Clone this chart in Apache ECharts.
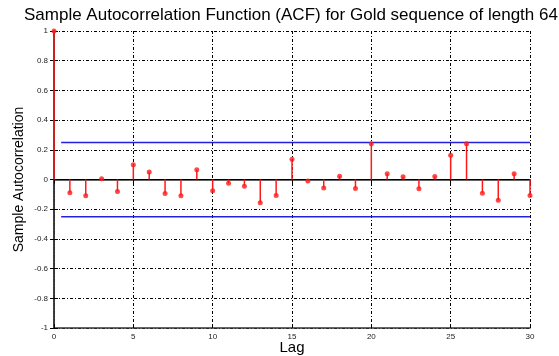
<!DOCTYPE html>
<html lang="en">
<head>
    <meta charset="UTF-8">
    <title>ACF</title>
    <script src="https://cdn.jsdelivr.net/npm/echarts@6.0.0/dist/echarts.min.js"></script>
    <style>
        body { margin: 0; background: #fff; }
    </style>
</head>
<body>
    <div id="main" style="width: 559px;height:356px;"></div>
    <script type="text/javascript">
        // lags and sample autocorrelation values
        const lags = [0, 1, 2, 3, 4, 5, 6, 7, 8, 9, 10, 11, 12, 13, 14, 15,
            16, 17, 18, 19, 20, 21, 22, 23, 24, 25, 26, 27, 28, 29, 30];
        const acf = [1, -0.09, -0.11, 0.005, -0.08, 0.1, 0.05, -0.095, -0.11, 0.065,
            -0.076, -0.025, -0.045, -0.156, -0.107, 0.136, -0.01, -0.058, 0.022, -0.06,
            0.241, 0.038, 0.018, -0.063, 0.02, 0.163, 0.241, -0.092, -0.14, 0.038, -0.107];
        // confidence bounds (2/sqrt(64))
        const bound = 0.25;
        const boundStart = 0.45;
        const yTicks = [-1, -0.8, -0.6, -0.4, -0.2, 0, 0.2, 0.4, 0.6, 0.8, 1];

        const points = lags.map((l, i) => [l, acf[i]]);
        const font = 'Liberation Sans, Arial, sans-serif';

        const gridLine = { show: true, lineStyle: { color: '#000', width: 1, type: [3, 2, 1, 2] } };

        let options = {
            animation: false,
            title: {
                text: 'Sample Autocorrelation Function (ACF) for Gold sequence of length 64',
                left: 24, top: 7, padding: 0,
                textStyle: { fontFamily: font, fontSize: 17, fontWeight: 'normal', color: '#000' }
            },
            grid: { left: 54, right: 29, top: 31, bottom: 28, outerBoundsMode: 'none', containLabel: false },
            xAxis: [{
                type: 'value', min: 0, max: 30, interval: 5,
                name: 'Lag', nameLocation: 'middle', nameGap: 12, nameMoveOverlap: false,
                nameTextStyle: { fontFamily: font, fontSize: 15, color: '#000' },
                axisLine: { onZero: false, lineStyle: { color: '#333', width: 1.5 } },
                axisTick: { inside: true, length: 4, lineStyle: { color: '#000' } },
                axisLabel: { fontFamily: font, fontSize: 8, color: '#222', margin: 5 },
                splitLine: gridLine
            }, {
                type: 'value', min: 0, max: 30, interval: 5, position: 'top',
                axisLine: { lineStyle: { color: '#333', width: 1.5 } },
                axisTick: { inside: true, length: 4, lineStyle: { color: '#000' } },
                axisLabel: { show: false }, splitLine: { show: false }
            }],
            yAxis: [{
                type: 'value', min: -1, max: 1, interval: 0.2,
                name: 'Sample Autocorrelation', nameLocation: 'middle', nameGap: 28, nameMoveOverlap: false,
                nameTextStyle: { fontFamily: font, fontSize: 14, color: '#000' },
                axisLine: { lineStyle: { color: '#333', width: 1.5 } },
                axisTick: { inside: true, length: 4, lineStyle: { color: '#000' } },
                axisLabel: {
                    fontFamily: font, fontSize: 8, color: '#222', margin: 6,
                    formatter: v => yTicks.includes(+v.toFixed(1)) ? String(+v.toFixed(1)) : ''
                },
                splitLine: gridLine
            }, {
                type: 'value', min: -1, max: 1, interval: 0.2, position: 'right',
                axisLine: { lineStyle: { color: '#333', width: 1.5 } },
                axisTick: { inside: true, length: 4, lineStyle: { color: '#000' } },
                axisLabel: { show: false }, splitLine: { show: false }
            }],
            series: [{
                // zero baseline
                type: 'line', data: [[0, 0], [30, 0]], symbol: 'none',
                lineStyle: { color: '#000', width: 1.2 }, z: 2, silent: true
            }, {
                type: 'line', data: [[boundStart, bound], [30, bound]], symbol: 'none',
                lineStyle: { color: '#2222dd', width: 1.5 }, z: 2
            }, {
                type: 'line', data: [[boundStart, -bound], [30, -bound]], symbol: 'none',
                lineStyle: { color: '#2222dd', width: 1.5 }, z: 2
            }, {
                // stems
                type: 'custom', data: points, z: 3,
                renderItem: (params, api) => {
                    const p0 = api.coord([api.value(0), 0]);
                    const p1 = api.coord([api.value(0), api.value(1)]);
                    return {
                        type: 'line',
                        shape: { x1: p0[0], y1: p0[1], x2: p1[0], y2: p1[1] },
                        style: { stroke: '#ff1a1a', lineWidth: 1.5 }
                    };
                }
            }, {
                type: 'scatter', data: points, symbol: 'circle', symbolSize: 5,
                itemStyle: { color: '#ff1a1a' }, z: 4
            }]
        };

        let myChart = echarts.init(document.getElementById('main'));
        myChart.setOption(options);
    </script>
</body>
</html>
